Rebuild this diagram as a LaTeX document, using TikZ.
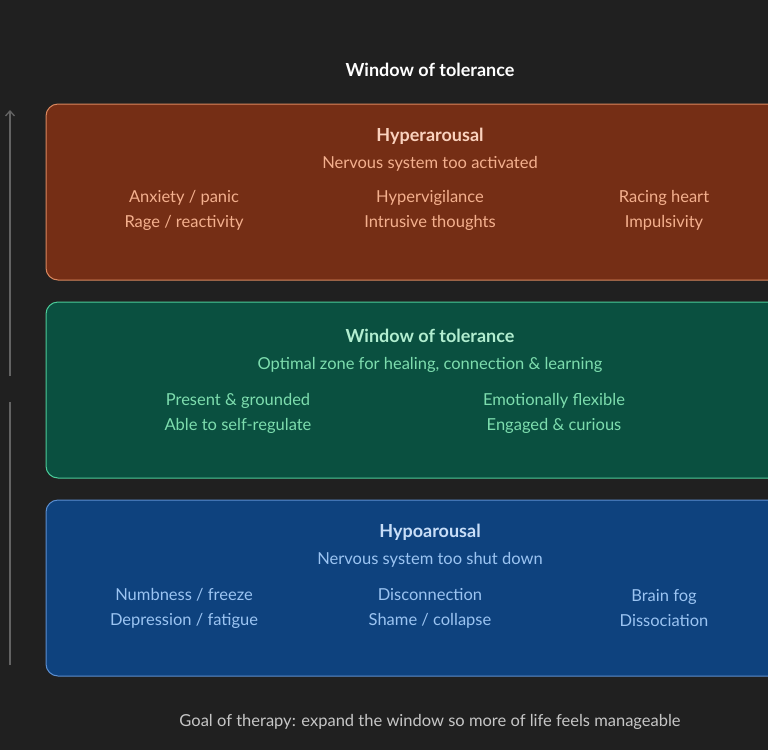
\documentclass[tikz,border=0pt]{standalone}
\usepackage{fontspec}
\setmainfont{Lato}
\usetikzlibrary{arrows.meta}
\definecolor{bg}{HTML}{202020}
\definecolor{obox}{HTML}{752E15}\definecolor{oline}{HTML}{D9875E}\definecolor{otxt}{HTML}{F4B08E}\definecolor{otit}{HTML}{FAD2BE}
\definecolor{gbox}{HTML}{0A5040}\definecolor{gline}{HTML}{4CCB99}\definecolor{gtxt}{HTML}{7DDDAE}\definecolor{gtit}{HTML}{B2EED0}
\definecolor{bbox}{HTML}{0E427E}\definecolor{bline}{HTML}{5B8ED0}\definecolor{btxt}{HTML}{9BC4F2}\definecolor{btit}{HTML}{C8DEF8}
\tikzset{band/.style={rounded corners=12pt,line width=1pt},
 tit/.style={font=\fontsize{18}{20}\selectfont\bfseries},
 sub/.style={font=\fontsize{16.5}{20}\selectfont},
 item/.style={font=\fontsize{16.5}{25}\selectfont,align=center}}
\begin{document}
\begin{tikzpicture}[x=1pt,y=-1pt]
\fill[bg] (0,0) rectangle (768,750);
\useasboundingbox (0,0) rectangle (768,750);
\node[font=\fontsize{18}{20}\selectfont\bfseries,text=white] (title) at (430,70) {Window of tolerance};
\coordinate (a0) at (10,665);\coordinate (a1) at (10,402);\coordinate (a2) at (10,376);\coordinate (a3) at (10,110);
\draw[line width=1.3pt,gray!70!bg] (a0)--(a1);
\draw[line width=1.3pt,gray!70!bg,-{Straight Barb[length=5pt,width=9pt]}] (a2)--(a3);
% hyper
\draw[band,fill=obox,draw=oline] (46,104) rectangle (790,280);
\node[tit,text=otit] (h1) at (430,136) {Hyperarousal};
\node[sub,text=otxt] (h2) at (430,164) {Nervous system too activated};
\node[item,text=otxt] (h3) at (184,210) {Anxiety / panic\\Rage / reactivity};
\node[item,text=otxt] (h4) at (430,210) {Hypervigilance\\Intrusive thoughts};
\node[item,text=otxt] (h5) at (664,210) {Racing heart\\Impulsivity};
% window
\draw[band,fill=gbox,draw=gline] (46,302) rectangle (790,478);
\node[tit,text=gtit] (w1) at (430,336) {Window of tolerance};
\node[sub,text=gtxt] (w2) at (430,365) {Optimal zone for healing, connection \& learning};
\node[item,text=gtxt] (w3) at (238,413) {Present \& grounded\\Able to self-regulate};
\node[item,text=gtxt] (w4) at (554,413) {Emotionally flexible\\Engaged \& curious};
% hypo
\draw[band,fill=bbox,draw=bline] (46,500) rectangle (790,676);
\node[tit,text=btit] (b1) at (430,532) {Hypoarousal};
\node[sub,text=btxt] (b2) at (430,560) {Nervous system too shut down};
\node[item,text=btxt] (b3) at (184,608) {Numbness / freeze\\Depression / fatigue};
\node[item,text=btxt] (b4) at (430,608) {Disconnection\\Shame / collapse};
\node[item,text=btxt] (b5) at (664,608) {Brain fog\\Dissociation};
\node[sub,text=gray!45!white] (foot) at (430,722) {Goal of therapy: expand the window so more of life feels manageable};
\end{tikzpicture}
\end{document}
